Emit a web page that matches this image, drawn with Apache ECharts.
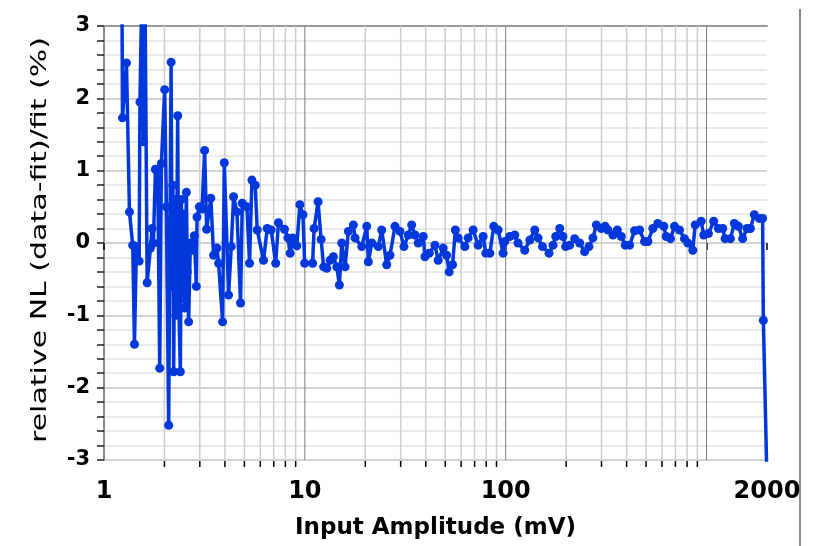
<!DOCTYPE html>
<html>
<head>
<meta charset="utf-8">
<script src="https://cdn.jsdelivr.net/npm/echarts@6/dist/echarts.min.js"></script>
<style>
html,body{margin:0;padding:0;background:#fff;}
#chart{width:813px;height:546px;}
</style>
</head>
<body>
<div id="chart"></div>
<script>
// Input amplitude (mV)
const amplitude = [
  1.229, 1.236, 1.294, 1.339, 1.390, 1.418, 1.450, 1.496, 1.510, 1.545,
  1.572, 1.599, 1.640, 1.703, 1.736, 1.762, 1.803, 1.851, 1.894, 1.931,
  2.005, 2.045, 2.099, 2.158, 2.185, 2.203, 2.223, 2.254, 2.280, 2.306,
  2.327, 2.354, 2.400, 2.428, 2.456, 2.492, 2.527, 2.571, 2.600, 2.639,
  2.691, 2.763, 2.817, 2.882, 2.905, 2.983, 3.077, 3.170, 3.243,
  3.403, 3.513, 3.653, 3.720, 3.895, 3.971, 4.171, 4.302, 4.417, 4.592,
  4.785, 4.879, 5.149, 5.305, 5.452, 5.662, 5.793, 6.226, 6.496, 6.800,
  7.159, 7.392, 7.918, 8.232, 8.452, 8.717, 9.125, 9.444, 9.785, 9.977,
  10.93, 11.12, 11.64, 12.05, 12.40, 12.86, 13.36, 13.87, 14.42, 14.86,
  15.27, 15.86, 16.47, 17.44, 17.78, 19.20, 20.33, 20.71, 21.53, 23.21,
  24.14, 25.56, 26.54, 28.11, 29.76, 31.15, 32.72, 34.03, 35.34, 36.70,
  38.86, 39.62, 41.61, 44.42, 46.13, 48.85, 50.79, 52.32, 54.40, 56.17,
  58.01, 62.62, 65.03, 68.86, 72.92, 77.21, 79.63, 83.36, 87.26, 91.67,
  97.07, 98.98, 104.8, 111.0, 115.2, 124.4, 131.8, 139.5, 144.9, 152.4,
  164.4, 172.1, 177.5, 185.8, 192.9, 198.9, 208.3, 220.5, 233.5, 247.3,
  259.8, 271.9, 282.7, 299.4, 312.7, 322.9, 342.0, 359.6, 376.4, 394.0,
  413.9, 438.3, 464.1, 491.4, 510.3, 540.3, 572.1, 612.8, 629.8, 661.6,
  692.6, 733.4, 776.6, 806.5, 854.0, 877.8, 940.1, 968.6, 1022, 1086,
  1146, 1204, 1237, 1315, 1376, 1441, 1513, 1591, 1653, 1730,
  1833, 1902, 1918, 2000
];
// relative NL (data-fit)/fit (%)
const relativeNL = [
  3.4, 1.73, 2.49, 0.43, -0.03, -1.40, -0.05, -0.25, 1.95, 3.6,
  1.4, 3.6, -0.55, -0.07, 0.2, 0.0, 1.02, 1.02, -1.73, 1.1,
  2.12, 0.5, -2.52, 2.5, -0.6, 0.8, -1.78, 0.6, -1.0, 0.3,
  1.76, -0.8, -1.78, 0.6, -0.7, 0.4, -0.9, 0.7, -0.4, -1.09,
  0.0, -0.1, 0.1, -0.6, 0.36, 0.5, 0.47, 1.28, 0.19,
  0.62, -0.17, -0.07, -0.28, -1.09, 1.11, -0.72, -0.05, 0.64, 0.43,
  -0.83, 0.55, 0.5, -0.28, 0.87, 0.8, 0.18, -0.24, 0.2, 0.18,
  -0.28, 0.28, 0.19, 0.07, -0.14, 0.07, -0.04, 0.53, 0.39, -0.28,
  -0.28, 0.2, 0.57, 0.05, -0.33, -0.35, -0.24, -0.19, -0.33, -0.58,
  0.0, -0.33, 0.16, 0.25, 0.07, -0.05, 0.23, -0.26, 0.0, -0.05,
  0.18, -0.30, -0.17, 0.23, 0.16, -0.05, 0.11, 0.25, 0.11, 0.0,
  0.09, -0.19, -0.14, -0.03, -0.24, -0.07, -0.17, -0.4, -0.3, 0.18,
  0.07, -0.05, 0.07, 0.18, -0.03, 0.09, -0.14, -0.14, 0.23, 0.18,
  -0.14, 0.02, 0.09, 0.11, 0.0, -0.1, 0.04, 0.18, 0.07, -0.05,
  -0.14, -0.03, 0.09, 0.2, 0.09, -0.05, -0.03, 0.06, 0.0, -0.12,
  -0.05, 0.07, 0.25, 0.2, 0.23, 0.18, 0.11, 0.18, 0.09, -0.03,
  -0.03, 0.17, 0.18, 0.02, 0.02, 0.2, 0.27, 0.23, 0.09, 0.06,
  0.23, 0.18, 0.06, 0.0, -0.1, 0.25, 0.3, 0.11, 0.13, 0.3,
  0.2, 0.2, 0.06, 0.06, 0.27, 0.23, 0.06, 0.2, 0.2, 0.39,
  0.34, 0.34, -1.07, -3.3
];
// log-axis minor grid/tick positions and decade grid lines
const minorTickValues = [2,3,4,5,6,7,8,9,20,30,40,50,60,70,80,90,200,300,400,500,600,700,800,900];
const decadeLineValues = [10, 100, 1000];
const hiddenLabelValues = [1000];
const xTitle = 'Input Amplitude (mV)';
const yTitle = 'relative NL (data-fit)/fit (%)';

const seriesData = amplitude.map((x, i) => [x, relativeNL[i]]);
const gridData = minorTickValues.map(v => [v, 0, 0]).concat(decadeLineValues.map(v => [v, 0, 1]));

const chart = echarts.init(document.getElementById('chart'), null, {renderer: 'canvas'});
const FONT = '"DejaVu Sans", Verdana, sans-serif';
const BLUE = '#0038dc';

chart.setOption({
  animation: false,
  backgroundColor: '#fff',
  grid: {left: 104, right: 46, top: 26, bottom: 86},
  xAxis: [{
    type: 'log', logBase: 10, min: 1, max: 2000,
    name: xTitle, nameLocation: 'middle', nameGap: 57,
    nameTextStyle: {fontFamily: FONT, fontSize: 23, fontWeight: 'bold', color: '#000'},
    axisLine: {show: true, lineStyle: {color: '#cfcfcf', width: 1.5}},
    axisTick: {show: true, length: 7, lineStyle: {color: '#000', width: 1.5}},
    axisLabel: {
      fontFamily: FONT, fontSize: 24, fontWeight: 'bold', color: '#000', margin: 20,
      formatter: v => hiddenLabelValues.indexOf(Math.round(v)) >= 0 ? '' : String(Math.round(v))
    },
    splitLine: {show: false}
  }, {
    type: 'log', logBase: 10, min: 1, max: 2000, position: 'top',
    axisLine: {show: true, lineStyle: {color: '#999', width: 2}},
    axisTick: {show: false}, axisLabel: {show: false}, splitLine: {show: false}
  }],
  yAxis: {
    type: 'value', min: -3, max: 3, interval: 1,
    axisLine: {show: true, lineStyle: {color: '#8a8a8a', width: 2}},
    axisTick: {show: true, length: 7, lineStyle: {color: '#222', width: 1.5}},
    minorTick: {show: true, splitNumber: 5, length: 7, lineStyle: {color: '#222', width: 1.5}},
    axisLabel: {fontFamily: FONT, fontSize: 21, fontWeight: 'bold', color: '#000', margin: 14},
    splitLine: {show: true, lineStyle: {color: '#c4c4c4', width: 1.5}},
    minorSplitLine: {show: true, lineStyle: {color: '#e3e3e3', width: 1.5}}
  },
  graphic: [
    {
      type: 'text', x: 41, y: 240, rotation: Math.PI / 2, scaleX: 1.5, scaleY: 1.05,
      style: {text: yTitle, font: '20px ' + FONT, fill: '#000', align: 'center', verticalAlign: 'middle'}
    },
    {
      type: 'line', shape: {x1: 800, y1: 9, x2: 800, y2: 546},
      style: {stroke: '#8c8c8c', lineWidth: 2}
    }
  ],
  series: [
    {
      type: 'custom',
      coordinateSystem: 'cartesian2d',
      xAxisIndex: 0, yAxisIndex: 0,
      clip: false,
      silent: true,
      z: 1,
      encode: {x: 0, y: 1},
      data: gridData,
      renderItem: function (params, api) {
        const x = api.value(0);
        const major = api.value(2) === 1;
        const top = api.coord([x, 3]);
        const bot = api.coord([x, -3]);
        const children = [{
          type: 'line',
          shape: {x1: top[0], y1: top[1], x2: bot[0], y2: bot[1]},
          style: {stroke: major ? '#7a7a7a' : '#cdcdcd', lineWidth: major ? 1 : 1.5}
        }];
        if (!major) {
          children.push({
            type: 'line',
            shape: {x1: bot[0], y1: bot[1] + 1, x2: bot[0], y2: bot[1] + 7},
            style: {stroke: '#000', lineWidth: 1.5}
          });
        }
        return {type: 'group', children: children};
      }
    },
    {
      type: 'line',
      data: seriesData,
      xAxisIndex: 0, yAxisIndex: 0,
      z: 5,
      clip: true,
      symbol: 'circle',
      symbolSize: 9,
      showSymbol: true,
      showAllSymbol: true,
      color: BLUE,
      lineStyle: {color: BLUE, width: 3.5},
      itemStyle: {color: BLUE},
      emphasis: {disabled: true}
    }
  ]
});
</script>
</body>
</html>
